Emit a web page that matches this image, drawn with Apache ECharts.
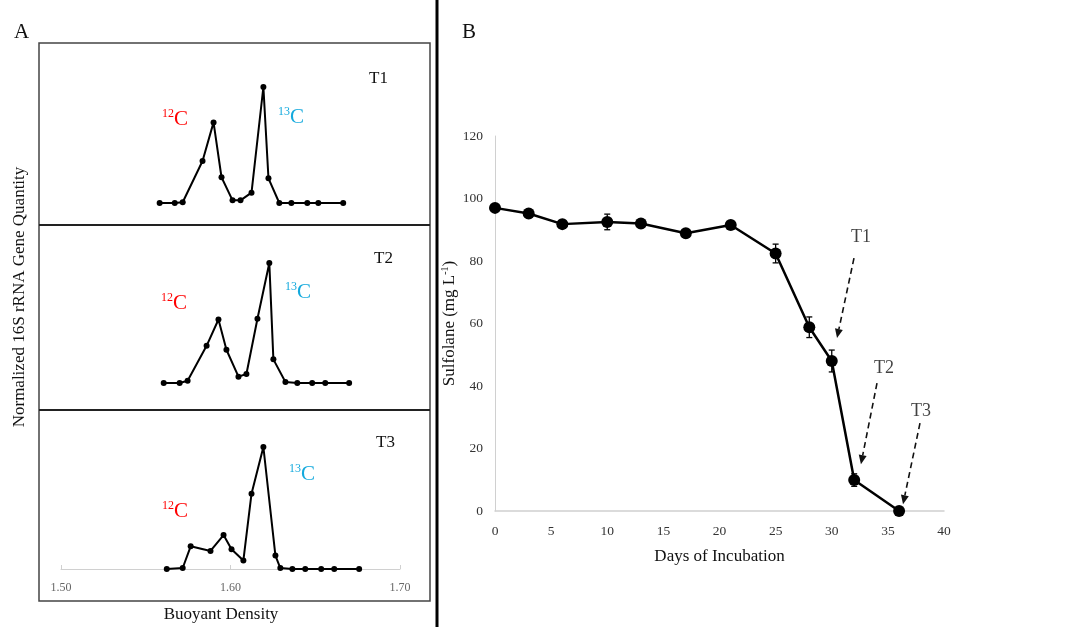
<!DOCTYPE html>
<html>
<head>
<meta charset="utf-8">
<script src="https://cdn.jsdelivr.net/npm/echarts@6/dist/echarts.min.js"></script>
<style>
  html, body { margin: 0; padding: 0; background: #fff; }
  #main { width: 1083px; height: 627px; }
</style>
</head>
<body>
<div id="main"></div>
<script>
// panel A: gradient fractions, buoyant density vs normalized gene quantity
var densityT1 = [1.5582, 1.5671, 1.5718, 1.5835, 1.5900, 1.5947, 1.6012, 1.6059, 1.6124, 1.6194, 1.6224, 1.6288, 1.6359, 1.6453, 1.6518, 1.6665]
var qtyT1 = [0, 0, 0.006, 0.362, 0.695, 0.222, 0.023, 0.023, 0.089, 1.0, 0.213, 0, 0, 0, 0, 0]

var densityT2 = [1.5606, 1.5700, 1.5747, 1.5859, 1.5929, 1.5976, 1.6047, 1.6094, 1.6159, 1.6229, 1.6253, 1.6324, 1.6394, 1.6482, 1.6559, 1.6700]
var qtyT2 = [0, 0, 0.019, 0.31, 0.529, 0.277, 0.053, 0.075, 0.535, 1.0, 0.197, 0.008, 0, 0, 0, 0]

var densityT3 = [1.5624, 1.5718, 1.5765, 1.5882, 1.5959, 1.6006, 1.6076, 1.6124, 1.6194, 1.6265, 1.6294, 1.6365, 1.6441, 1.6535, 1.6612, 1.6759]
var qtyT3 = [0, 0.008, 0.186, 0.148, 0.278, 0.162, 0.070, 0.617, 1.0, 0.11, 0.008, 0, 0, 0, 0, 0]

// panel B: sulfolane concentration over time
var days = [0, 3, 6, 10, 13, 17, 21, 25, 28, 30, 32, 36]
var sulfolane = [97, 95.2, 91.8, 92.5, 92, 88.9, 91.5, 82.4, 58.8, 48, 9.9, 0]
var sulfolaneErr = [1, 1, 1, 2.5, 1, 1, 1, 3, 3.3, 3.5, 2, 0.5]

// sampling time arrows in panel B (data coords)
var arrowNames = ['T1', 'T2', 'T3']
var arrowFrom = [[31.98, 80.9], [34.03, 40.9], [37.86, 28.1]]
var arrowTo = [[30.47, 55.4], [32.6, 15.0], [36.35, 2.2]]
var arrowLabelAt = [[32.6, 87.7], [34.65, 45.8], [37.95, 32]]

var serif = 'Liberation Serif'
var chart = echarts.init(document.getElementById('main'))

function pairs(xs, ys) {
  return xs.map(function (x, i) { return [x, ys[i]] })
}

function isoLabel(mass, color, x, y) {
  return {
    type: 'text', left: x, top: y, z: 10,
    style: {
      text: '{s|' + mass + '}{c|C}',
      rich: {
        s: { fontSize: 12, fontFamily: serif, fill: color, padding: [0, 0, 10, 0] },
        c: { fontSize: 21, fontFamily: serif, fill: color }
      }
    }
  }
}

function plainText(txt, x, y, size) {
  return { type: 'text', left: x, top: y, z: 10, style: { text: txt, fontSize: size, fontFamily: serif, fill: '#111' } }
}

var red = '#ff0000'
var blue = '#13a9dd'

var hiddenX = { min: 1.5, max: 1.7, interval: 0.1, show: false }

var errData = days.map(function (d, i) {
  return [d, sulfolane[i] - sulfolaneErr[i], sulfolane[i] + sulfolaneErr[i]]
})

var arrowData = arrowFrom.map(function (f, i) {
  return [f[0], f[1], arrowTo[i][0], arrowTo[i][1]]
})

var option = {
  backgroundColor: '#fff',
  animation: false,
  grid: [
    { left: 61, right: 683, top: 87, height: 116 },
    { left: 61, right: 683, top: 263, height: 120 },
    { left: 61, right: 683, top: 447, height: 122 },
    { left: 495, right: 139, top: 136, bottom: 116 }
  ],
  xAxis: [
    Object.assign({ gridIndex: 0 }, hiddenX),
    Object.assign({ gridIndex: 1 }, hiddenX),
    {
      gridIndex: 2, min: 1.5, max: 1.7, interval: 0.1,
      axisLine: { lineStyle: { color: '#d0d0d0', width: 1 } },
      axisTick: { show: true, inside: true, length: 4, lineStyle: { color: '#d0d0d0' } },
      splitLine: { show: false },
      axisLabel: {
        color: '#666', fontFamily: serif, fontSize: 12, margin: 13,
        formatter: function (v) { return v.toFixed(2) }
      }
    },
    {
      gridIndex: 3, type: 'value', min: 0, max: 40, interval: 5,
      name: 'Days of Incubation', nameLocation: 'middle', nameGap: 37,
      nameTextStyle: { fontFamily: serif, fontSize: 17, color: '#111' },
      axisLine: { lineStyle: { color: '#d0d0d0', width: 1.5 } },
      axisTick: { show: false },
      splitLine: { show: false },
      axisLabel: { color: '#333', fontFamily: serif, fontSize: 13.5, margin: 13 }
    }
  ],
  yAxis: [
    { gridIndex: 0, min: 0, max: 1, show: false },
    { gridIndex: 1, min: 0, max: 1, show: false },
    { gridIndex: 2, min: 0, max: 1, show: false },
    {
      gridIndex: 3, type: 'value', min: 0, max: 120, interval: 20,
      name: 'Sulfolane (mg L{sup|-1})', nameLocation: 'middle', nameGap: 36,
      nameTextStyle: {
        fontFamily: serif, fontSize: 17, color: '#111',
        rich: { sup: { fontSize: 10, fontFamily: serif, color: '#111', padding: [0, 0, 9, 0] } }
      },
      axisLine: { show: true, lineStyle: { color: '#d0d0d0', width: 1 } },
      axisTick: { show: false },
      splitLine: { show: false },
      axisLabel: { color: '#333', fontFamily: serif, fontSize: 13.5, margin: 12 }
    }
  ],
  series: [
    {
      type: 'line', xAxisIndex: 0, yAxisIndex: 0, data: pairs(densityT1, qtyT1), clip: false,
      symbol: 'circle', symbolSize: 6, itemStyle: { color: '#000' }, lineStyle: { color: '#000', width: 2 }
    },
    {
      type: 'line', xAxisIndex: 1, yAxisIndex: 1, data: pairs(densityT2, qtyT2), clip: false,
      symbol: 'circle', symbolSize: 6, itemStyle: { color: '#000' }, lineStyle: { color: '#000', width: 2 }
    },
    {
      type: 'line', xAxisIndex: 2, yAxisIndex: 2, data: pairs(densityT3, qtyT3), clip: false,
      symbol: 'circle', symbolSize: 6, itemStyle: { color: '#000' }, lineStyle: { color: '#000', width: 2 }
    },
    {
      type: 'line', xAxisIndex: 3, yAxisIndex: 3, data: pairs(days, sulfolane), clip: false,
      symbol: 'circle', symbolSize: 12, itemStyle: { color: '#000' }, lineStyle: { color: '#000', width: 2.5 },
      z: 3
    },
    {
      type: 'custom', xAxisIndex: 3, yAxisIndex: 3, data: errData, z: 4,
      renderItem: function (params, api) {
        var lo = api.coord([api.value(0), api.value(1)])
        var hi = api.coord([api.value(0), api.value(2)])
        var cap = 3
        var st = { stroke: '#000', lineWidth: 1.3 }
        return {
          type: 'group',
          children: [
            { type: 'line', shape: { x1: lo[0], y1: lo[1], x2: hi[0], y2: hi[1] }, style: st },
            { type: 'line', shape: { x1: lo[0] - cap, y1: lo[1], x2: lo[0] + cap, y2: lo[1] }, style: st },
            { type: 'line', shape: { x1: hi[0] - cap, y1: hi[1], x2: hi[0] + cap, y2: hi[1] }, style: st }
          ]
        }
      }
    },
    {
      // dashed arrows marking sampling times
      type: 'custom', xAxisIndex: 3, yAxisIndex: 3, data: arrowData, z: 5, silent: true,
      renderItem: function (params, api) {
        var a = api.coord([api.value(0), api.value(1)])
        var b = api.coord([api.value(2), api.value(3)])
        var ang = Math.atan2(b[1] - a[1], b[0] - a[0])
        var len = 9, w = 4
        var bx = b[0] - len * Math.cos(ang), by = b[1] - len * Math.sin(ang)
        var px = -Math.sin(ang) * w, py = Math.cos(ang) * w
        return {
          type: 'group',
          children: [
            {
              type: 'line', shape: { x1: a[0], y1: a[1], x2: bx, y2: by },
              style: { stroke: '#111', lineWidth: 1.6, lineDash: [6, 4] }
            },
            {
              type: 'polygon',
              shape: { points: [[b[0], b[1]], [bx + px, by + py], [bx - px, by - py]] },
              style: { fill: '#111' }
            }
          ]
        }
      }
    },
    {
      type: 'scatter', xAxisIndex: 3, yAxisIndex: 3, symbolSize: 0, silent: true,
      data: arrowLabelAt.map(function (p, i) { return { value: p, name: arrowNames[i] } }),
      label: {
        show: true, position: 'inside', formatter: '{b}',
        fontFamily: serif, fontSize: 18, color: '#111'
      }
    }
  ],
  graphic: [
    // panel A frame and dividers
    { type: 'rect', shape: { x: 39, y: 43, width: 391, height: 558 }, style: { fill: 'none', stroke: '#444', lineWidth: 1.5 } },
    { type: 'line', shape: { x1: 39, y1: 225, x2: 430, y2: 225 }, style: { stroke: '#222', lineWidth: 2 } },
    { type: 'line', shape: { x1: 39, y1: 410, x2: 430, y2: 410 }, style: { stroke: '#222', lineWidth: 2 } },
    // separator between panels
    { type: 'line', shape: { x1: 437, y1: 0, x2: 437, y2: 627 }, style: { stroke: '#000', lineWidth: 3 } },
    plainText('A', 14, 22, 21),
    plainText('B', 462, 22, 21),
    plainText('T1', 369, 70, 17),
    plainText('T2', 374, 250, 17),
    plainText('T3', 376, 434, 17),
    isoLabel('12', red, 162, 108),
    isoLabel('13', blue, 278, 106),
    isoLabel('12', red, 161, 292),
    isoLabel('13', blue, 285, 281),
    isoLabel('12', red, 162, 500),
    isoLabel('13', blue, 289, 463),
    {
      type: 'text', z: 10, x: 20, y: 297, rotation: Math.PI / 2,
      style: {
        text: 'Normalized 16S rRNA Gene Quantity', fontSize: 17, fontFamily: serif, fill: '#111',
        align: 'center', verticalAlign: 'middle'
      }
    },
    {
      type: 'text', z: 10, x: 221, y: 615,
      style: { text: 'Buoyant Density', fontSize: 17, fontFamily: serif, fill: '#111', align: 'center', verticalAlign: 'middle' }
    }
  ]
}

chart.setOption(option)
</script>
</body>
</html>
